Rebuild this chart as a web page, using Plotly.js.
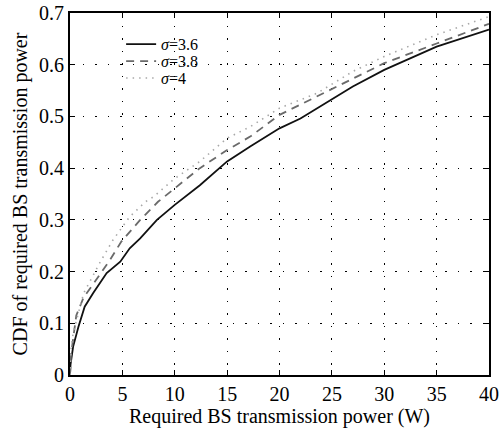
<!DOCTYPE html>
<html>
<head>
<meta charset="utf-8">
<script src="https://cdn.plot.ly/plotly-3.0.1.min.js"></script>
<style>html,body{margin:0;padding:0;background:#fff;}#chart{width:502px;height:432px;}</style>
</head>
<body>
<div id="chart"></div>
<script>
// Series: sigma = 3.6 (solid)
const x36 = [0, 0.05, 0.3, 0.8, 1.4, 2.2, 3.5, 4.8, 5.7, 6.7, 8.3, 10, 12.4, 15, 17.2, 20, 22, 23.9, 27, 30, 35, 40];
const y36 = [0, 0.02, 0.055, 0.093, 0.132, 0.158, 0.197, 0.219, 0.245, 0.264, 0.30, 0.329, 0.367, 0.413, 0.442, 0.477, 0.496, 0.519, 0.558, 0.590, 0.635, 0.668];
// Series: sigma = 3.8 (dashed)
const x38 = [0, 0.1, 0.6, 1.3, 2.5, 3.8, 4.9, 6.7, 8.4, 10, 12.4, 15, 17.2, 20, 23.6, 27, 30, 35, 40];
const y38 = [0, 0.04, 0.115, 0.15, 0.184, 0.222, 0.258, 0.30, 0.335, 0.361, 0.40, 0.435, 0.461, 0.503, 0.539, 0.574, 0.603, 0.641, 0.679];
// Series: sigma = 4 (dotted)
const x4 = [0, 0.1, 0.3, 1.3, 2.9, 4.1, 5.7, 7.2, 8, 10, 12.4, 15, 17.2, 20, 23.6, 27, 30, 35, 40];
const y4 = [0, 0.05, 0.081, 0.158, 0.219, 0.261, 0.306, 0.335, 0.345, 0.380, 0.413, 0.458, 0.480, 0.516, 0.545, 0.587, 0.616, 0.658, 0.693];

const names = ['<i>σ</i>=3.6', '<i>σ</i>=3.8', '<i>σ</i>=4'];
const xTicks = [0, 5, 10, 15, 20, 25, 30, 35, 40];
const yTicks = [0, 0.1, 0.2, 0.3, 0.4, 0.5, 0.6, 0.7];
const yTickText = ['0', '0.1', '0.2', '0.3', '0.4', '0.5', '0.6', '0.7'];

const font = '"Liberation Serif", "Times New Roman", serif';

const traces = [
  {x: x36, y: y36, name: names[0], legend: 'legend', mode: 'lines', line: {color: '#111', width: 1.8, dash: 'solid'}},
  {x: x38, y: y38, name: names[1], legend: 'legend2', mode: 'lines', line: {color: '#6a6a6a', width: 1.8, dash: '8px,6px'}},
  {x: x4, y: y4, name: names[2], legend: 'legend3', mode: 'lines', line: {color: '#a8a8a8', width: 1.6, dash: '1.5px,5px'}}
];

const axisCommon = {
  showline: true, linecolor: '#000', linewidth: 2, mirror: 'allticks',
  ticks: 'inside', ticklen: 5, tickwidth: 1.2, tickcolor: '#000',
  showgrid: true, gridcolor: '#000', gridwidth: 1, griddash: '1.5px,11px',
  zeroline: false, tickfont: {family: font, size: 20, color: '#000'}
};

function leg(yv) {
  return {x: 0.122, y: yv, xanchor: 'left', yanchor: 'middle', bgcolor: 'rgba(0,0,0,0)',
          font: {family: font, size: 16, color: '#000'}, itemwidth: 30, borderwidth: 0};
}

const layout = {
  width: 502, height: 432,
  margin: {l: 70, r: 13, t: 13, b: 57},
  paper_bgcolor: '#fff', plot_bgcolor: '#fff',
  showlegend: true,
  legend: leg(0.914),
  legend2: leg(0.867),
  legend3: leg(0.820),
  xaxis: Object.assign({}, axisCommon, {
    range: [0, 40], tickvals: xTicks, ticktext: xTicks.map(String),
    title: {text: 'Required BS transmission power (W)', font: {family: font, size: 20, color: '#000'}, standoff: 2}
  }),
  yaxis: Object.assign({}, axisCommon, {
    range: [0, 0.7], tickvals: yTicks, ticktext: yTickText,
    title: {text: 'CDF of required BS transmission power', font: {family: font, size: 20, color: '#000'}, standoff: 6}
  })
};

Plotly.newPlot('chart', traces, layout, {displayModeBar: false, staticPlot: true});
</script>
</body>
</html>
